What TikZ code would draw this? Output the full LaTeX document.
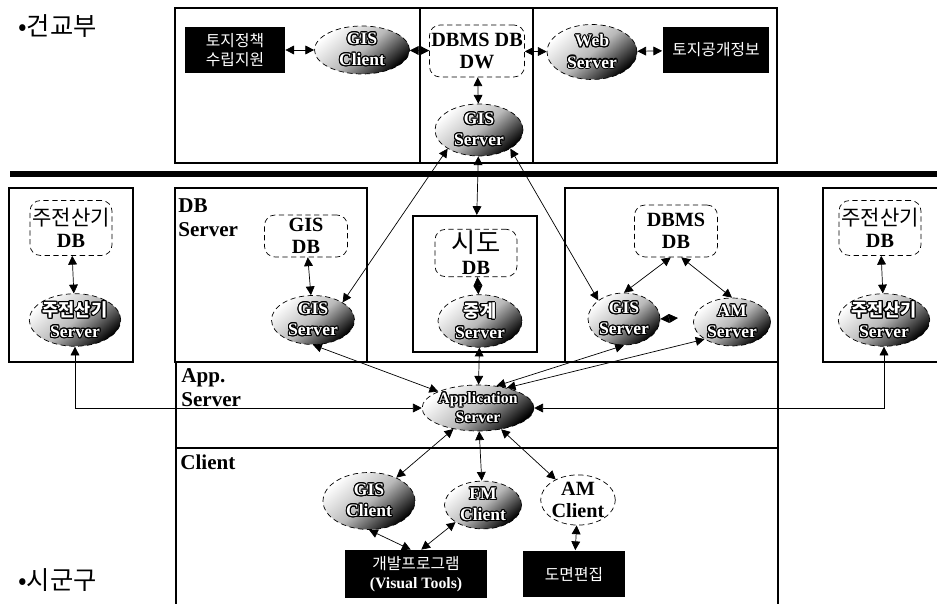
\documentclass[tikz,border=0pt]{standalone}
\usepackage{fontspec}
\setmainfont{Liberation Serif}
\newfontfamily\kr{Noto Sans CJK KR}
\usepackage{contour}
\contourlength{0.6pt}
\usetikzlibrary{positioning,arrows.meta,shapes.geometric}
\newcommand{\wt}[1]{\contour{black}{#1}}

\tikzset{
  srv/.style={ellipse, draw, densely dashed, top color=white, bottom color=black, middle color=gray!55, shading angle=40, text=white, font=\bfseries, align=center, inner sep=0pt},
  dbc/.style={draw, densely dashed, rounded corners=6pt, align=center, font=\bfseries\fontsize{11.5}{12.5}\selectfont, inner sep=1pt},
  blk/.style={fill=black, text=white, align=center, font=\kr\small, inner sep=1pt},
  frm/.style={draw, line width=1.2pt},
  lab/.style={font=\bfseries\large, align=left, anchor=north west, inner sep=0pt},
  lnk/.style={{Triangle[length=5pt,width=5pt]}-{Triangle[length=5pt,width=5pt]}, thin},
}

\begin{document}
\begin{tikzpicture}[x=0.02cm, y=-0.02cm]
  \useasboundingbox (0,0) rectangle (937,604);
  % frames
  \draw[frm] (175,8) rectangle (777,163);
  \draw[frm] (420,8) -- (420,163) (533,8) -- (533,163);
  \fill (10,171) rectangle (937,177);
  \draw[frm] (9,188) rectangle (133,362);
  \draw[frm] (175,188) rectangle (367,362);
  \draw[frm] (565,188) rectangle (778,362);
  \draw[frm] (940,188) -| (823,362) -- (940,362);
  \draw[frm] (176,362) -- (778,362) (176,448) -- (778,448);
  \draw[frm] (176,362) -- (176,604) (778,362) -- (778,604);
  \node[frm, minimum width=2.48cm, minimum height=2.72cm] (sido) at (475,284) {};

  \node[font=\kr\Large, anchor=west, inner sep=0pt] (gunkyo) at (18,26) {•건교부};
  \node[font=\kr\Large, anchor=west, inner sep=0pt] (sigun) at (18,580) {•시군구};

  % top
  \node[blk, minimum width=2cm, minimum height=0.92cm] (policy) at (235,50) {토지정책\\수립지원};
  \node[srv, minimum width=1.9cm, minimum height=0.88cm] (gclient) at (362,50) {\wt{GIS}\\\wt{Client}};
  \node[dbc, minimum width=1.84cm, minimum height=1.04cm] (dw) at (477,51) {DBMS DB\\DW};
  \node[srv, minimum width=1.8cm, minimum height=1.1cm] (wclient) at (592,52) {\wt{Web}\\\wt{Server}};
  \node[blk, minimum width=2.14cm, minimum height=0.92cm] (open) at (716,50) {토지공개정보};
  \node[srv, minimum width=1.76cm, minimum height=1.04cm] (gserver) at (479,130) {\wt{GIS}\\\wt{Server}};

  % db server row
  \node[dbc, minimum width=1.64cm, minimum height=1.1cm] (mdb1) at (71,228) {{\kr\mdseries\fontsize{12}{13}\selectfont 주전산기}\\DB};
  \node[srv, minimum width=1.68cm, minimum height=0.96cm] (msrv1) at (75,320) {\wt{\kr 주전산기}\\\wt{Server}};
  \node[lab] (dblab) at (178,198) {DB\\Server};
  \node[dbc, minimum width=1.66cm, minimum height=0.84cm] (gisdb) at (306,236) {GIS\\DB};
  \node[srv, minimum width=1.66cm, minimum height=0.98cm] (gissrv) at (313,320) {\wt{GIS}\\\wt{Server}};
  \node[dbc, minimum width=1.64cm, minimum height=0.94cm] (sidodb) at (476,253) {{\kr\mdseries\fontsize{15}{16}\selectfont 시도}\\DB};
  \node[srv, minimum width=1.68cm, minimum height=0.96cm] (relay) at (480,321) {\wt{\kr 중계}\\\wt{Server}};
  \node[dbc, minimum width=1.66cm, minimum height=1.04cm] (dbmsdb) at (676,231) {DBMS\\DB};
  \node[srv, minimum width=1.44cm, minimum height=1.04cm] (gissrv2) at (624,319) {\wt{GIS}\\\wt{Server}};
  \node[srv, minimum width=1.54cm, minimum height=0.9cm] (amsrv) at (732,322) {\wt{AM}\\\wt{Server}};
  \coordinate (stub) at (678,318);
  \node[dbc, minimum width=1.64cm, minimum height=1.1cm] (mdb2) at (880,228) {{\kr\mdseries\fontsize{12}{13}\selectfont 주전산기}\\DB};
  \node[srv, minimum width=1.68cm, minimum height=0.96cm] (msrv2) at (884,320) {\wt{\kr 주전산기}\\\wt{Server}};

  % app server and clients
  \node[lab] (applab) at (181,368) {App.\\Server};
  \node[srv, font=\bfseries\small, minimum width=1.76cm, minimum height=0.92cm] (appsrv) at (478,408) {\wt{Application}\\\wt{Server}};
  \node[lab] (clab) at (180,455) {Client};
  \node[srv, minimum width=1.84cm, minimum height=1.14cm] (gcli) at (369,501) {\wt{GIS}\\\wt{Client}};
  \node[srv, minimum width=1.54cm, minimum height=0.92cm] (fmcli) at (483,505) {\wt{FM}\\\wt{Client}};
  \node[ellipse, draw, densely dashed, font=\bfseries\fontsize{11.5}{12.5}\selectfont, align=center, inner sep=0pt, minimum width=1.44cm, minimum height=1cm] (amcli) at (578,500) {AM\\Client};
  \node[blk, minimum width=2.84cm, minimum height=0.96cm] (devtool) at (416,574) {개발프로그램\\{\rmfamily\bfseries (Visual Tools)}};
  \node[blk, minimum width=2.04cm, minimum height=0.94cm] (mapedit) at (574,574) {도면편집};

  % links
  \draw[lnk] (policy) -- (gclient);
  \draw[lnk] (gclient) -- (dw);
  \draw[lnk] (dw) -- (wclient);
  \draw[lnk] (wclient) -- (open);
  \draw[lnk] (dw) -- (gserver);
  \draw[lnk] (gserver) -- (sido);
  \draw[lnk] (gserver.south west) -- (gissrv.north east);
  \draw[lnk] (gserver.south east) -- (gissrv2.north west);
  \draw[lnk] (mdb1) -- (msrv1);
  \draw[lnk] (gisdb) -- (gissrv);
  \draw[lnk] (sidodb) -- (relay);
  \draw[lnk] ([xshift=-3pt]dbmsdb.south) -- (gissrv2.north);
  \draw[lnk] ([xshift=3pt]dbmsdb.south) -- (amsrv.north);
  \draw[lnk] (gissrv2.east) -- (stub);
  \draw[lnk] (mdb2) -- (msrv2);
  \draw[lnk] (msrv1.south) |- (appsrv.west);
  \draw[lnk] (msrv2.south) |- (appsrv.east);
  \draw[lnk] (gissrv.south) -- (appsrv.north west);
  \draw[lnk] (relay) -- (appsrv);
  \draw[lnk] (gissrv2.south) -- (appsrv.50);
  \draw[lnk] (amsrv.south west) -- (appsrv.35);
  \draw[lnk] (appsrv) -- (gcli);
  \draw[lnk] (appsrv) -- (fmcli);
  \draw[lnk] (appsrv) -- (amcli);
  \draw[lnk] (gcli.south) -- ([xshift=-3pt]devtool.north);
  \draw[lnk] (fmcli.south west) -- ([xshift=3pt]devtool.north);
  \draw[lnk] (amcli) -- (mapedit);
\end{tikzpicture}
\end{document}
